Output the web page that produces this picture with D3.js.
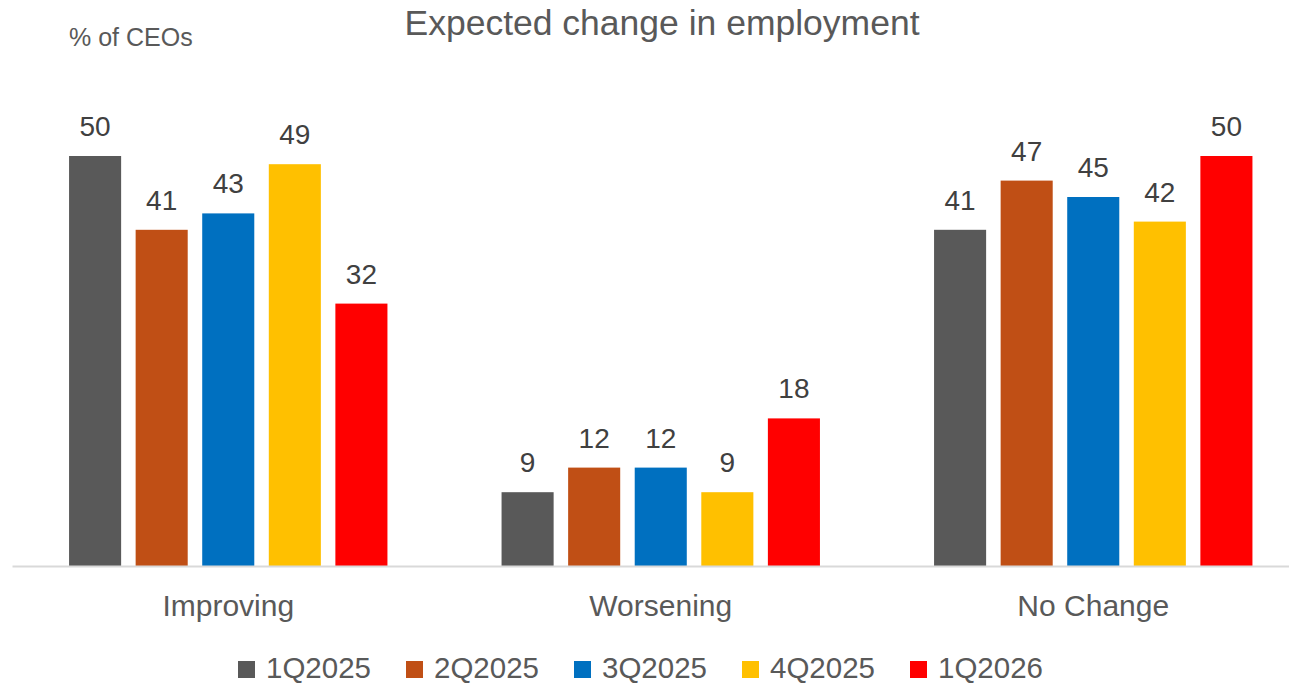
<!DOCTYPE html>
<html>
<head>
<meta charset="utf-8">
<script src="https://cdn.jsdelivr.net/npm/d3@7"></script>
<style>
  body { margin: 0; background: #fff; }
  svg { display: block; font-family: "Liberation Sans", Arial, sans-serif; }
</style>
</head>
<body>
<div id="chart"></div>
<script>
// data
const categories = ["Improving", "Worsening", "No Change"];
const quarters = ["1Q2025", "2Q2025", "3Q2025", "4Q2025", "1Q2026"];
const q1_2025 = [50, 9, 41];
const q2_2025 = [41, 12, 47];
const q3_2025 = [43, 12, 45];
const q4_2025 = [49, 9, 42];
const q1_2026 = [32, 18, 50];
const colors = ["#595959", "#C04F15", "#0070C0", "#FFC000", "#FF0000"];

const seriesValues = [q1_2025, q2_2025, q3_2025, q4_2025, q1_2026];

const width = 1289, height = 684;
const baseY = 566;
const textColor = "#595959";

const svg = d3.select("#chart").append("svg")
  .attr("width", width)
  .attr("height", height);

// scales
const x0 = d3.scaleBand()
  .domain(categories)
  .range([12, 1309.5])
  .padding(0);

const x1 = d3.scaleBand()
  .domain(quarters)
  .range([0, x0.bandwidth()])
  .paddingInner(0.218)
  .paddingOuter(0.857);

const y = d3.scaleLinear()
  .domain([0, 50])
  .range([baseY, 156]);

// title
svg.append("text")
  .attr("x", 662)
  .attr("y", 35)
  .attr("text-anchor", "middle")
  .style("font-size", "35.5px")
  .style("fill", textColor)
  .text("Expected change in employment");

svg.append("text")
  .attr("x", 69)
  .attr("y", 46)
  .style("font-size", "25px")
  .style("fill", textColor)
  .text("% of CEOs");

// bars
const rows = [];
categories.forEach(function(c, i) {
  quarters.forEach(function(q, j) {
    rows.push({cat: c, q: q, value: seriesValues[j][i], color: colors[j]});
  });
});

const groups = svg.selectAll(".group")
  .data(categories)
  .enter().append("g")
  .attr("class", "group")
  .attr("transform", function(d) { return "translate(" + x0(d) + ",0)"; });

groups.selectAll("rect")
  .data(function(c) { return rows.filter(function(r) { return r.cat == c; }); })
  .enter().append("rect")
  .attr("x", function(d) { return x1(d.q); })
  .attr("y", function(d) { return y(d.value); })
  .attr("width", x1.bandwidth())
  .attr("height", function(d) { return baseY - y(d.value); })
  .style("fill", function(d) { return d.color; });

groups.selectAll(".label")
  .data(function(c) { return rows.filter(function(r) { return r.cat == c; }); })
  .enter().append("text")
  .attr("class", "label")
  .attr("x", function(d) { return x1(d.q) + x1.bandwidth() / 2; })
  .attr("y", function(d) { return y(d.value) - 20; })
  .attr("text-anchor", "middle")
  .style("font-size", "28px")
  .style("fill", "#404040")
  .text(function(d) { return d.value; });

// x axis
const xAxis = d3.axisBottom(x0).tickSize(0).tickPadding(0);
const axisG = svg.append("g")
  .attr("transform", "translate(0," + baseY + ")")
  .call(xAxis);
axisG.select(".domain")
  .attr("stroke", "#d9d9d9")
  .attr("stroke-width", 2);
axisG.selectAll(".tick text")
  .attr("y", 50)
  .attr("dy", null)
  .style("font-family", "Liberation Sans, Arial, sans-serif")
  .style("font-size", "30px")
  .style("fill", textColor);

// legend
const legend = svg.selectAll(".legend")
  .data(quarters)
  .enter().append("g")
  .attr("class", "legend")
  .attr("transform", function(d, i) { return "translate(" + (238 + i * 168) + ",0)"; });

legend.append("rect")
  .attr("x", 0)
  .attr("y", 661)
  .attr("width", 17)
  .attr("height", 17)
  .style("fill", function(d, i) { return colors[i]; });

legend.append("text")
  .attr("x", 28)
  .attr("y", 678)
  .style("font-size", "29.5px")
  .style("fill", textColor)
  .text(function(d) { return d; });
</script>
</body>
</html>
